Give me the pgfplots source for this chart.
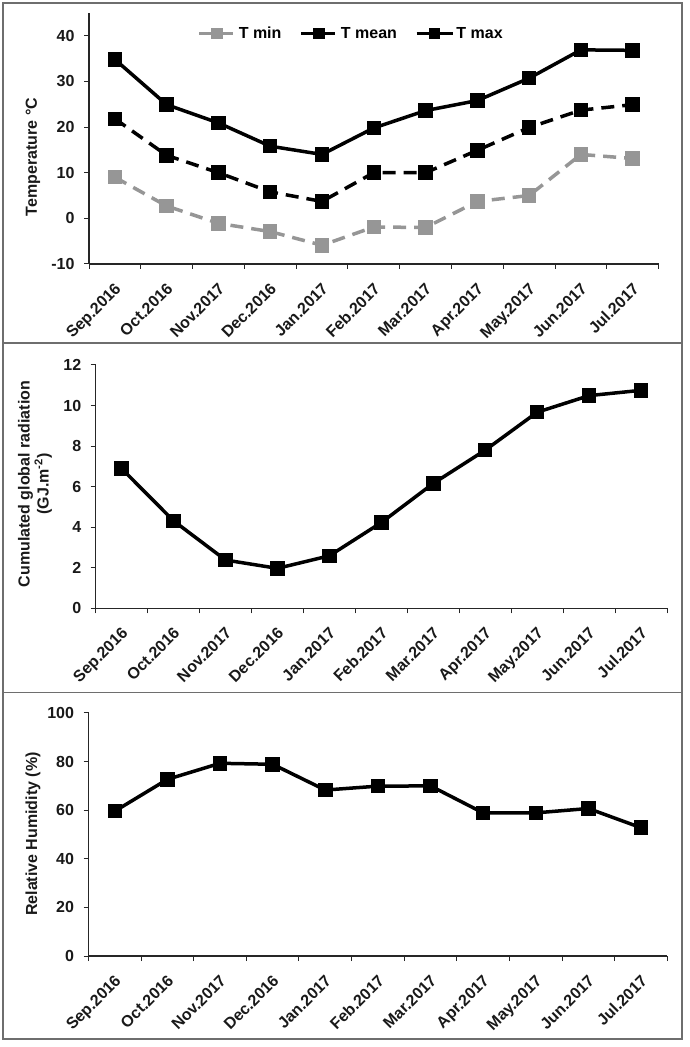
\documentclass[border=0pt]{standalone}
\usepackage{pgfplots}
\pgfplotsset{compat=1.18}
\usepackage{fontspec}
\setmainfont{Liberation Sans}
\definecolor{tmin}{RGB}{150,150,150}
\definecolor{frame}{RGB}{110,110,110}
\begin{document}
\begin{tikzpicture}
\useasboundingbox (0pt,0pt) rectangle (689pt,1047pt);
\draw[frame, line width=1.6pt] (3pt,8pt) rectangle (682pt,1044pt);
\draw[frame, line width=1.6pt] (3pt,704pt) -- (682pt,704pt);
\draw[frame, line width=1.6pt] (3pt,354.5pt) -- (682pt,354.5pt);
\pgfplotsset{
 myaxis/.style={
   scale only axis,
   axis lines=left,
   axis line style={-, line width=1.2pt, black!85},
   xmin=-0.5, xmax=10.5,
   xtick={0,...,10},
   xticklabels={Sep.2016,Oct.2016,Nov.2017,Dec.2016,Jan.2017,Feb.2017,Mar.2017,Apr.2017,May.2017,Jun.2017,Jul.2017},
   major x tick style={draw=none},
   minor xtick={-0.5,0.5,...,10.5},
   minor x tick style={line width=1pt, black!85},
   minor tick length=5pt,
   major tick length=5pt,
   tick align=outside,
   ytick style={line width=1pt,black!85},
   xticklabel style={yshift=-8pt, xshift=-1pt, rotate=45, anchor=north east, font=\fontsize{16}{18}\selectfont\bfseries, text=black!90},
   yticklabel style={font=\fontsize{16}{18}\selectfont\bfseries, text=black!90, xshift=-6pt},
   every axis plot/.append style={line width=3.5pt, mark=square*, mark size=5.5pt, mark options={solid}},
   clip=false,
 }
}
\begin{axis}[myaxis, at={(89pt,783pt)}, anchor=south west, width=569.6pt, height=251.1pt,
  ymin=-10, ymax=45, ytick={-10,0,10,20,30,40}, yticklabels={-10,0,10,20,30,40},
  legend style={at={(0.46,0.918)}, anchor=center, draw=none, fill=none,
    font=\fontsize{16}{18}\selectfont\bfseries, legend columns=-1,
    /tikz/every even column/.append style={column sep=16pt}},
  legend image code/.code={\draw[mark repeat=2, mark phase=2, #1, mark size=4pt] plot coordinates {(0pt,0pt) (18pt,0pt) (36pt,0pt)};}]
\addplot[tmin, dash pattern=on 13pt off 8pt] coordinates {(0,9)(1,2.7)(2,-1.1)(3,-2.9)(4,-5.9)(5,-1.9)(6,-2)(7,3.7)(8,5)(9,14)(10,13.1)};
\addlegendentry{T min}
\addplot[black, dash pattern=on 13pt off 8pt] coordinates {(0,21.8)(1,13.8)(2,10)(3,5.8)(4,3.7)(5,10)(6,10)(7,14.9)(8,19.9)(9,23.7)(10,24.9)};
\addlegendentry{T mean}
\addplot[black] coordinates {(0,34.8)(1,24.9)(2,20.9)(3,15.8)(4,14)(5,19.8)(6,23.6)(7,25.8)(8,30.7)(9,36.9)(10,36.8)};
\addlegendentry{T max}
\end{axis}
\begin{axis}[myaxis, at={(95.7pt,438.7pt)}, anchor=south west, width=571.3pt, height=243.3pt,
  ymin=0, ymax=12, ytick={0,2,4,6,8,10,12}, yticklabels={0,2,4,6,8,10,12}]
\addplot[black] coordinates {(0,6.89)(1,4.31)(2,2.38)(3,1.97)(4,2.59)(5,4.23)(6,6.16)(7,7.8)(8,9.67)(9,10.49)(10,10.75)};
\end{axis}
\begin{axis}[myaxis, at={(88.5pt,91pt)}, anchor=south west, width=578.8pt, height=243pt,
  ymin=0, ymax=100, ytick={0,20,40,60,80,100}, yticklabels={0,20,40,60,80,100}]
\addplot[black] coordinates {(0,59.6)(1,72.7)(2,79.3)(3,78.9)(4,68.3)(5,69.9)(6,70)(7,58.9)(8,58.9)(9,60.7)(10,52.8)};
\end{axis}
\node[rotate=90, font=\fontsize{16}{18}\selectfont\bfseries, text=black!90] at (33pt,890pt) {Temperature °C};
\node[rotate=90, align=center, font=\fontsize{16}{19}\selectfont\bfseries, text=black!90] at (35pt,563pt) {Cumulated global radiation\\(GJ.m\textsuperscript{-2})};
\node[rotate=90, font=\fontsize{16}{18}\selectfont\bfseries, text=black!90] at (33pt,213pt) {Relative Humidity (\%)};
\end{tikzpicture}
\end{document}
